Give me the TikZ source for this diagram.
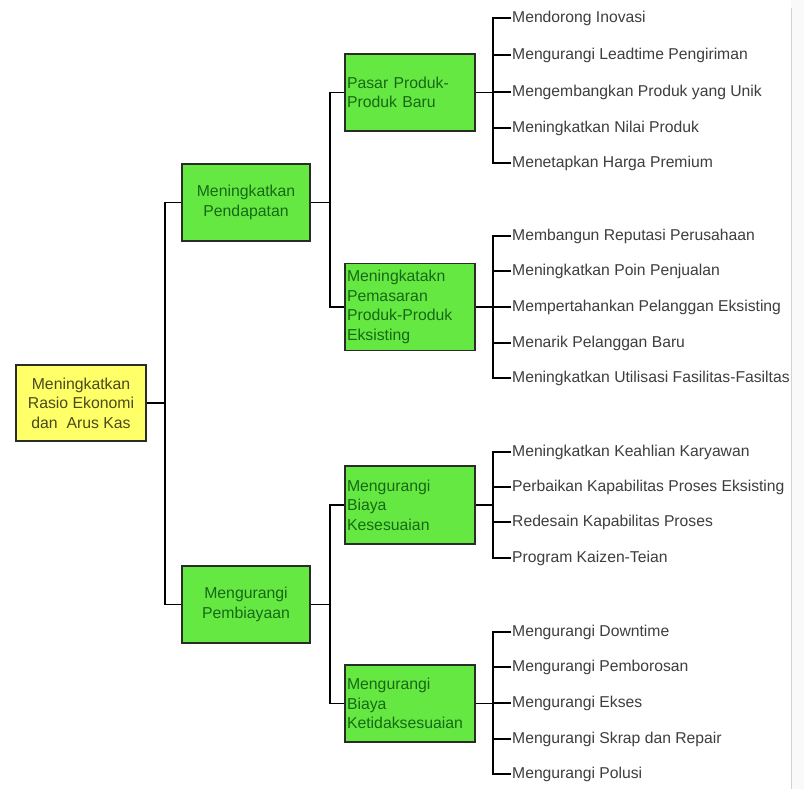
\documentclass[tikz,border=0pt]{standalone}
\usepackage{fontspec}
\setmainfont{Liberation Sans}
\definecolor{boxgreen}{RGB}{102,232,66}
\definecolor{gtext}{RGB}{22,105,22}
\definecolor{boxyellow}{RGB}{255,255,104}
\definecolor{ytext}{RGB}{75,75,25}
\definecolor{leaftext}{RGB}{62,62,62}
\definecolor{boxline}{RGB}{40,45,40}
\tikzset{
  x=1pt, y=-1pt,
  basebox/.style={draw=boxline, line width=1.3pt, inner sep=0pt,
    font=\fontsize{15.8}{19.5}\selectfont},
  rootbox/.style={basebox, fill=boxyellow, text=ytext, align=center,
    minimum width=130pt, minimum height=76pt},
  midbox/.style={basebox, fill=boxgreen, text=gtext, align=center,
    minimum width=128pt, minimum height=77pt},
  subbox/.style={basebox, fill=boxgreen, text=gtext, align=left,
    text width=126pt, inner xsep=2pt, minimum height=77pt},
  leaf/.style={anchor=west, inner xsep=1pt, inner ysep=0pt, text=leaftext,
    font=\fontsize{15.7}{19.5}\selectfont},
  link/.style={draw=black, line width=1.2pt}
}
\begin{document}
\begin{tikzpicture}
\fill[white] (0,0) rectangle (804,789);
\useasboundingbox (0,0) rectangle (804,789);
\fill[gray!5] (791,0) rectangle (804,789);
\draw[gray!35, line width=0.8pt] (791,8) -- (791,789);

% root and level 1
\node[rootbox] (root) at (81,403) {Meningkatkan\\Rasio Ekonomi\\dan\ \ Arus Kas};
\node[midbox] (p1) at (246,202.5) {Meningkatkan\\Pendapatan};
\node[midbox] (p2) at (246,604.5) {Mengurangi\\Pembiayaan};

% level 2
\node[subbox] (s1) at (410,92.5) {Pasar Produk-\\Produk Baru};
\node[subbox, minimum height=87pt] (s2) at (410,307) {Meningkatakn\\Pemasaran\\Produk-Produk\\Eksisting};
\node[subbox, minimum height=78pt] (s3) at (410,505) {Mengurangi\\Biaya\\Kesesuaian};
\node[subbox] (s4) at (410,703.5) {Mengurangi\\Biaya\\Ketidaksesuaian};

% junction coordinates
\coordinate (t0) at (165,403);
\coordinate (t1) at (330,202.5);
\coordinate (t2) at (330,604.5);
\coordinate (k1) at (493,92.5);
\coordinate (k2) at (493,307);
\coordinate (k3) at (493,505);
\coordinate (k4) at (493,703.5);

% leaves group 1
\node[leaf] (a1) at (511,18) {Mendorong Inovasi};
\node[leaf] (a2) at (511,55) {Mengurangi Leadtime Pengiriman};
\node[leaf] (a3) at (511,92) {Mengembangkan Produk yang Unik};
\node[leaf] (a4) at (511,128) {Meningkatkan Nilai Produk};
\node[leaf] (a5) at (511,163) {Menetapkan Harga Premium};
% leaves group 2
\node[leaf] (b1) at (511,236) {Membangun Reputasi Perusahaan};
\node[leaf] (b2) at (511,271) {Meningkatkan Poin Penjualan};
\node[leaf] (b3) at (511,307) {Mempertahankan Pelanggan Eksisting};
\node[leaf] (b4) at (511,343) {Menarik Pelanggan Baru};
\node[leaf] (b5) at (511,378) {Meningkatkan Utilisasi Fasilitas-Fasiltas};
% leaves group 3
\node[leaf] (c1) at (511,452) {Meningkatkan Keahlian Karyawan};
\node[leaf] (c2) at (511,487) {Perbaikan Kapabilitas Proses Eksisting};
\node[leaf] (c3) at (511,522) {Redesain Kapabilitas Proses};
\node[leaf] (c4) at (511,558) {Program Kaizen-Teian};
% leaves group 4
\node[leaf] (d1) at (511,632) {Mengurangi Downtime};
\node[leaf] (d2) at (511,667) {Mengurangi Pemborosan};
\node[leaf] (d3) at (511,703) {Mengurangi Ekses};
\node[leaf] (d4) at (511,739) {Mengurangi Skrap dan Repair};
\node[leaf] (d5) at (511,774) {Mengurangi Polusi};

% connectors
\draw[link] (root.east) -- (t0);
\draw[link] (p1.west) -| (t0);
\draw[link] (p2.west) -| (t0);

\draw[link] (p1.east) -- (t1);
\draw[link] (s1.west) -| (t1);
\draw[link] (s2.west) -| (t1);
\draw[link] (p2.east) -- (t2);
\draw[link] (s3.west) -| (t2);
\draw[link] (s4.west) -| (t2);

\draw[link] (s1.east) -- (k1);
\foreach \n in {a1,a2,a3,a4,a5} \draw[link] (\n.west) -| (k1);
\draw[link] (s2.east) -- (k2);
\foreach \n in {b1,b2,b3,b4,b5} \draw[link] (\n.west) -| (k2);
\draw[link] (s3.east) -- (k3);
\foreach \n in {c1,c2,c3,c4} \draw[link] (\n.west) -| (k3);
\draw[link] (s4.east) -- (k4);
\foreach \n in {d1,d2,d3,d4,d5} \draw[link] (\n.west) -| (k4);
\end{tikzpicture}
\end{document}
